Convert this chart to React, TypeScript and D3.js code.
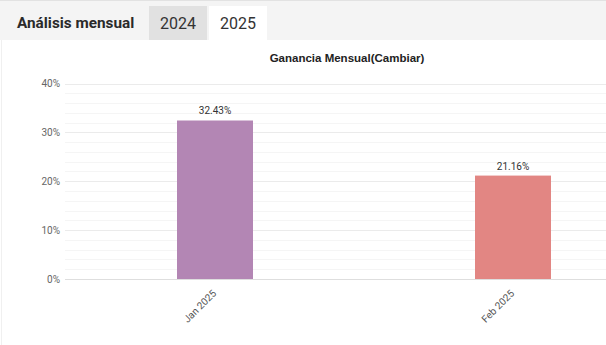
import React from "react";
import * as d3 from "d3";

const months = ["Jan 2025", "Feb 2025"];
const values = [32.43, 21.16];
const colors = ["#b386b4", "#e28683"];
const yTicks = [0, 10, 20, 30, 40];
const tabs = ["2024", "2025"];
const headerTitle = "Análisis mensual";
const chartTitle = "Ganancia Mensual(Cambiar)";

const W = 606;
const H = 345;

export default function App() {
  const x = d3.scaleBand<string>().domain(months).range([66, 662]).paddingInner(0.745).paddingOuter(0.3725);
  const y = d3.scaleLinear().domain([0, 40]).range([279, 83.5]);
  const minor = d3.range(0, 40.001, 2);

  return (
    <>
      <style>{`body{margin:0}`}</style>
      <svg width={W} height={H} style={{ display: "block", fontFamily: "Roboto, 'Liberation Sans', Arial, sans-serif" }}>
        <rect x={0} y={0} width={W} height={H} fill="#ffffff" />
        {/* header */}
        <rect x={0} y={0} width={W} height={40} fill="#f4f4f4" />
        <line x1={0} x2={W} y1={0.5} y2={0.5} stroke="#e2e2e2" />
        <line x1={1.5} x2={1.5} y1={40} y2={H} stroke="#f0f0f0" />
        <text x={17} y={28} fontSize={15.3} fontWeight={700} fill="#2a2a2a">{headerTitle}</text>
        {tabs.map((t, i) => (
          <g key={t}>
            <rect x={149 + i * 60} y={6} width={58} height={34} fill={i === 0 ? "#e1e1e1" : "#ffffff"} />
            <text x={178 + i * 60} y={29} fontSize={16} textAnchor="middle" fill="#333">{t}</text>
          </g>
        ))}
        {/* title */}
        <text x={347} y={62} fontSize={11.5} fontWeight={700} textAnchor="middle" fill="#222" fontFamily="'Liberation Sans', Arial, sans-serif">{chartTitle}</text>
        {/* minor grid */}
        {minor.map((v) => (
          <line key={"m" + v} x1={65} x2={W} y1={Math.round(y(v)) + 0.5} y2={Math.round(y(v)) + 0.5} stroke="#f5f5f5" />
        ))}
        {yTicks.map((v) => (
          <g key={v}>
            <line x1={65} x2={W} y1={Math.round(y(v)) + 0.5} y2={Math.round(y(v)) + 0.5} stroke={v === 0 ? "#dedede" : "#ebebeb"} />
            <text x={60} y={y(v) + 3.5} fontSize={10} textAnchor="end" fill="#666">{v}%</text>
          </g>
        ))}
        {/* bars */}
        {months.map((m, i) => (
          <g key={m}>
            <rect x={x(m)!} y={y(values[i])} width={x.bandwidth()} height={y(0) - y(values[i])} fill={colors[i]} />
            <text x={x(m)! + x.bandwidth() / 2} y={y(values[i]) - 6} fontSize={10} textAnchor="middle" fill="#333">{values[i].toFixed(2)}%</text>
            <text
              transform={`translate(${x(m)! + x.bandwidth() / 2 + 2},${294}) rotate(-45)`}
              fontSize={10}
              textAnchor="end"
              fill="#555"
            >{m}</text>
          </g>
        ))}
      </svg>
    </>
  );
}
